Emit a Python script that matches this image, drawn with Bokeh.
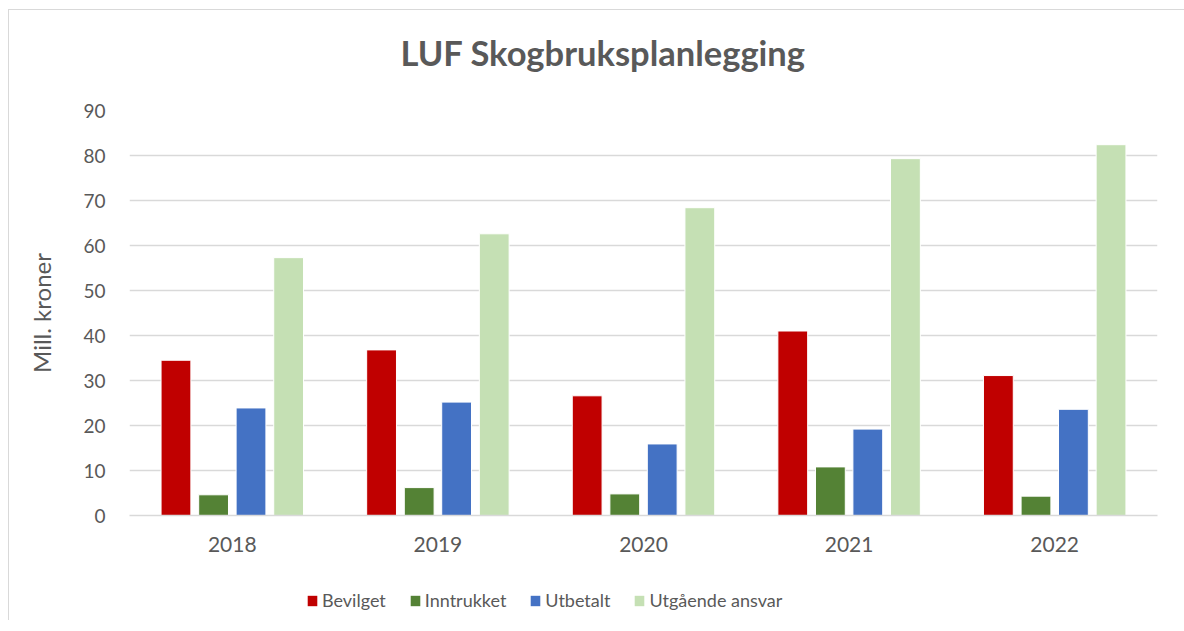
from bokeh.plotting import figure
from bokeh.layouts import column
from bokeh.models import FactorRange, Legend, LegendItem, SingleIntervalTicker, Label
from bokeh.transform import dodge
from bokeh.embed import file_html
from bokeh.resources import INLINE

years = ["2018", "2019", "2020", "2021", "2022"]
bevilget = [34.5, 36.8, 26.6, 41.0, 31.1]
inntrukket = [4.6, 6.2, 4.8, 10.8, 4.3]
utbetalt = [23.9, 25.2, 15.9, 19.2, 23.6]
utgaende = [57.3, 62.6, 68.4, 79.3, 82.4]
series_names = ["Bevilget", "Inntrukket", "Utbetalt", "Utgående ansvar"]
colors = ["#c00000", "#548235", "#4472c4", "#c5e0b4"]
title_text = "LUF Skogbruksplanlegging"

FONT = "Lato"
TXT = "#595959"
W = 1175

# title strip (frames of the column's figures are aligned horizontally)
pt = figure(x_range=(0, 1), y_range=(0, 1), width=W, height=90, output_backend="svg",
            toolbar_location=None, min_border=0, x_axis_location=None, y_axis_location=None)
pt.grid.grid_line_color = None
pt.outline_line_color = None
pt.add_layout(Label(x=271, y=48, x_units="screen", y_units="screen", text=title_text,
                    text_font=FONT, text_font_size="34.5px", text_font_style="bold",
                    text_color=TXT, text_baseline="middle", text_align="left"))

p = figure(x_range=FactorRange(*years), y_range=(0, 90),
           width=W, height=480, output_backend="svg", toolbar_location=None,
           min_border_left=120, min_border_right=27, min_border_top=10, min_border_bottom=65)
p.outline_line_color = None

data = dict(years=years, b=bevilget, i=inntrukket, u=utbetalt, g=utgaende)
keys = ["b", "i", "u", "g"]
offsets = [-0.274, -0.091, 0.091, 0.274]
for k, off, c in zip(keys, offsets, colors):
    p.vbar(x=dodge("years", off, range=p.x_range), top=k, width=0.145, source=data,
           fill_color=c, line_color="white", line_width=1)

p.yaxis.ticker = SingleIntervalTicker(interval=10)
p.yaxis.axis_label = "Mill. kroner"
p.yaxis.axis_label_text_font = FONT
p.yaxis.axis_label_text_font_size = "24px"
p.yaxis.axis_label_text_font_style = "normal"
p.yaxis.axis_label_text_color = TXT
p.yaxis.axis_label_standoff = 24
p.yaxis.major_label_text_font = FONT
p.yaxis.major_label_text_font_size = "19px"
p.yaxis.major_label_text_color = TXT
p.yaxis.major_label_standoff = 20
p.yaxis.major_tick_out = 0
p.yaxis.axis_line_color = None
p.yaxis.major_tick_line_color = None
p.yaxis.minor_tick_line_color = None

p.xaxis.major_label_text_font = FONT
p.xaxis.major_label_text_font_size = "21px"
p.xaxis.major_label_text_color = TXT
p.xaxis.major_label_standoff = 21
p.xaxis.major_tick_out = 0
p.xaxis.axis_line_color = "#d9d9d9"
p.xaxis.axis_line_width = 1.5
p.xaxis.major_tick_line_color = None
p.xaxis.minor_tick_line_color = None

p.xgrid.grid_line_color = None
p.ygrid.grid_line_color = "#d9d9d9"
p.ygrid.grid_line_width = 1.5

# legend strip
p2 = figure(x_range=(0, 1), y_range=(0, 1), width=W, height=40, output_backend="svg",
            toolbar_location=None, min_border=0, x_axis_location=None, y_axis_location=None)
p2.grid.grid_line_color = None
p2.outline_line_color = None
hidden = dict(x=[-5], top=[-5])
rs = [p2.vbar(x="x", top="top", width=0.1, source=hidden, fill_color=c, line_color=None) for c in colors]
legend = Legend(items=[LegendItem(label=n, renderers=[r]) for n, r in zip(series_names, rs)],
                orientation="horizontal", location=(177, 9))
legend.label_text_font = FONT
legend.label_text_font_size = "18px"
legend.label_text_color = TXT
legend.glyph_width = 12
legend.glyph_height = 13
legend.label_standoff = 4
legend.spacing = 23
legend.border_line_color = None
legend.background_fill_alpha = 0
legend.margin = 0
legend.padding = 0
p2.add_layout(legend, "center")

layout = column(pt, p, p2, spacing=0, margin=(9, 0, 0, 8),
                styles={"border-left": "1px solid #d9d9d9", "border-top": "1px solid #d9d9d9"})

open("out.html", "w").write(file_html(layout, INLINE))
